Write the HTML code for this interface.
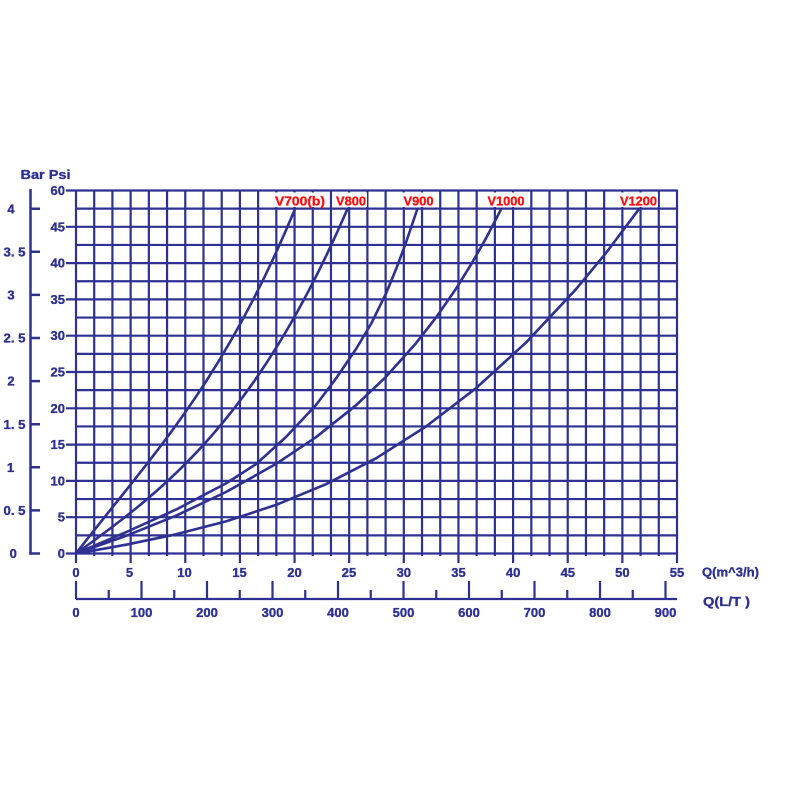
<!DOCTYPE html>
<html><head><meta charset="utf-8"><style>
html,body{margin:0;padding:0;background:#fff;}
svg{display:block;}
text{font-family:"Liberation Sans",Arial,sans-serif;font-weight:bold;}
</style></head><body>
<svg width="800" height="800" viewBox="0 0 800 800" xmlns="http://www.w3.org/2000/svg">
<rect width="800" height="800" fill="#fff"/>
<g stroke="#2e3192" stroke-width="2.2" fill="none">
<path d="M76 190.5H677M76 208.65H677M76 226.8H677M76 244.95H677M76 263.1H677M76 281.25H677M76 299.4H677M76 317.55H677M76 335.7H677M76 353.85H677M76 372H677M76 390.15H677M76 408.3H677M76 426.45H677M76 444.6H677M76 462.75H677M76 480.9H677M76 499.05H677M76 517.2H677M76 535.35H677M76 553.5H677"/>
<path d="M66 190.5H76M66 226.8H76M66 263.1H76M66 299.4H76M66 335.7H76M66 372H76M66 408.3H76M66 444.6H76M66 480.9H76M66 517.2H76M66 553.5H76"/>
<path d="M94.21 190.5V556M112.42 190.5V556M148.85 190.5V556M167.06 190.5V556M203.48 190.5V556M221.7 190.5V556M258.12 190.5V556M276.33 190.5V556M312.76 190.5V556M330.97 190.5V556M367.39 190.5V556M385.61 190.5V556M422.03 190.5V556M440.24 190.5V556M476.67 190.5V556M494.88 190.5V556M531.3 190.5V556M549.52 190.5V556M585.94 190.5V556M604.15 190.5V556M640.58 190.5V556M658.79 190.5V556"/>
<path d="M76 189.5V563M130.64 190.5V563M185.27 190.5V563M239.91 190.5V563M294.55 190.5V563M349.18 190.5V563M403.82 190.5V563M458.45 190.5V563M513.09 190.5V563M567.73 190.5V563M622.36 190.5V563M677 189.5V563"/>
<path d="M76 599H677"/>
<path d="M76 581V599M141.5 581V599M207 581V599M272.5 581V599M338 581V599M403.5 581V599M469 581V599M534.5 581V599M600 581V599M665.5 581V599"/>
<path d="M108.75 590V599M174.25 590V599M239.75 590V599M305.25 590V599M370.75 590V599M436.25 590V599M501.75 590V599M567.25 590V599M632.75 590V599"/>
</g>
<g stroke="#2e3192" stroke-width="2.5" fill="none">
<path d="M30.5 189V554.7"/>
<path d="M29.3 553.5H40M30 510.4H40M30 467.3H40M30 424.2H40M30 381.1H40M30 338H40M30 294.9H40M30 251.8H40M30 208.7H40"/>
</g>
<g stroke="#2e3192" stroke-width="2.6" fill="none" stroke-linecap="round" stroke-linejoin="round">
<path d="M76,553.5 C149,458.5 222,385.8 295,209"/>
<path d="M76,553.5 C166.3,488.9 256.7,419 347,210"/>
<polyline points="76,553.5 126,532.2 176,509.6 226,483.4 256,464.2 286,437 316,405 336,378.5 356,349 371,324 386,293.5 396,269.3 406,242.5 417,210"/>
<polyline points="76,553.5 126,535.9 176,515.7 226,492 276,463.9 316,437.2 356,405.3 386,376.8 416,343.2 436,317.6 456,288.7 471,264.6 486,238.3 500.7,210"/>
<polyline points="76,553.5 101,549.2 126,544.7 176,534.3 226,521.4 276,504.9 326,484.2 376,458.3 426,426.5 476,388.2 526,342.6 576,289.2 606,253 638.3,210"/>
</g>
<g fill="#fff">
<rect x="274" y="192.5" width="52" height="14.5"/>
<rect x="335" y="192.5" width="32" height="14.5"/>
<rect x="402.5" y="192.5" width="32" height="14.5"/>
<rect x="486.5" y="192.5" width="39" height="14.5"/>
<rect x="619" y="192.5" width="39" height="14.5"/>
</g>
<g fill="#ff0d0d" font-size="12.5" stroke="#ff0d0d" stroke-width="0.3">
<text x="275" y="205.5" textLength="50" lengthAdjust="spacingAndGlyphs">V700(b)</text>
<text x="336" y="205.5" textLength="30" lengthAdjust="spacingAndGlyphs">V800</text>
<text x="403.5" y="205.5" textLength="30" lengthAdjust="spacingAndGlyphs">V900</text>
<text x="487.5" y="205.5" textLength="37" lengthAdjust="spacingAndGlyphs">V1000</text>
<text x="620" y="205.5" textLength="37" lengthAdjust="spacingAndGlyphs">V1200</text>
</g>
<g fill="#2e3192" font-size="13" stroke="#2e3192" stroke-width="0.35">
<text x="20.5" y="179" textLength="50" lengthAdjust="spacingAndGlyphs">Bar Psi</text>
<g text-anchor="end">
<text x="65" y="195">60</text>
<text x="65" y="231.3">45</text>
<text x="65" y="267.6">40</text>
<text x="65" y="303.9">35</text>
<text x="65" y="340.2">30</text>
<text x="65" y="376.5">25</text>
<text x="65" y="412.8">20</text>
<text x="65" y="449.1">15</text>
<text x="65" y="485.4">10</text>
<text x="65" y="521.7">5</text>
<text x="65" y="558">0</text>
</g>
<g text-anchor="middle">
<text x="11" y="213.3">4</text>
<text x="11" y="299.5">3</text>
<text x="11" y="385.7">2</text>
<text x="10.5" y="471.9">1</text>
<text x="13.3" y="558.1">0</text>
</g>
<text x="3.5" y="256.4" textLength="22" lengthAdjust="spacingAndGlyphs">3. 5</text>
<text x="3.5" y="342.6" textLength="22" lengthAdjust="spacingAndGlyphs">2. 5</text>
<text x="3.5" y="428.8" textLength="22" lengthAdjust="spacingAndGlyphs">1. 5</text>
<text x="3.5" y="515" textLength="22" lengthAdjust="spacingAndGlyphs">0. 5</text>
<g text-anchor="middle">
<text x="76" y="577">0</text>
<text x="129.5" y="577">5</text>
<text x="184.5" y="577">10</text>
<text x="239.5" y="577">15</text>
<text x="294.5" y="577">20</text>
<text x="349" y="577">25</text>
<text x="403.8" y="577">30</text>
<text x="458.5" y="577">35</text>
<text x="513.1" y="577">40</text>
<text x="567.8" y="577">45</text>
<text x="622.4" y="577">50</text>
<text x="677" y="577">55</text>
<text x="76" y="617">0</text>
<text x="141.5" y="617">100</text>
<text x="207" y="617">200</text>
<text x="272.5" y="617">300</text>
<text x="338" y="617">400</text>
<text x="403.5" y="617">500</text>
<text x="469" y="617">600</text>
<text x="534.5" y="617">700</text>
<text x="600" y="617">800</text>
<text x="665.5" y="617">900</text>
</g>
<text x="702" y="576.5" font-size="12.5" textLength="57" lengthAdjust="spacingAndGlyphs">Q(m^3/h)</text>
<text x="703" y="606" font-size="12.5" textLength="47" lengthAdjust="spacingAndGlyphs">Q(L/T )</text>
</g>
</svg>
</body></html>
